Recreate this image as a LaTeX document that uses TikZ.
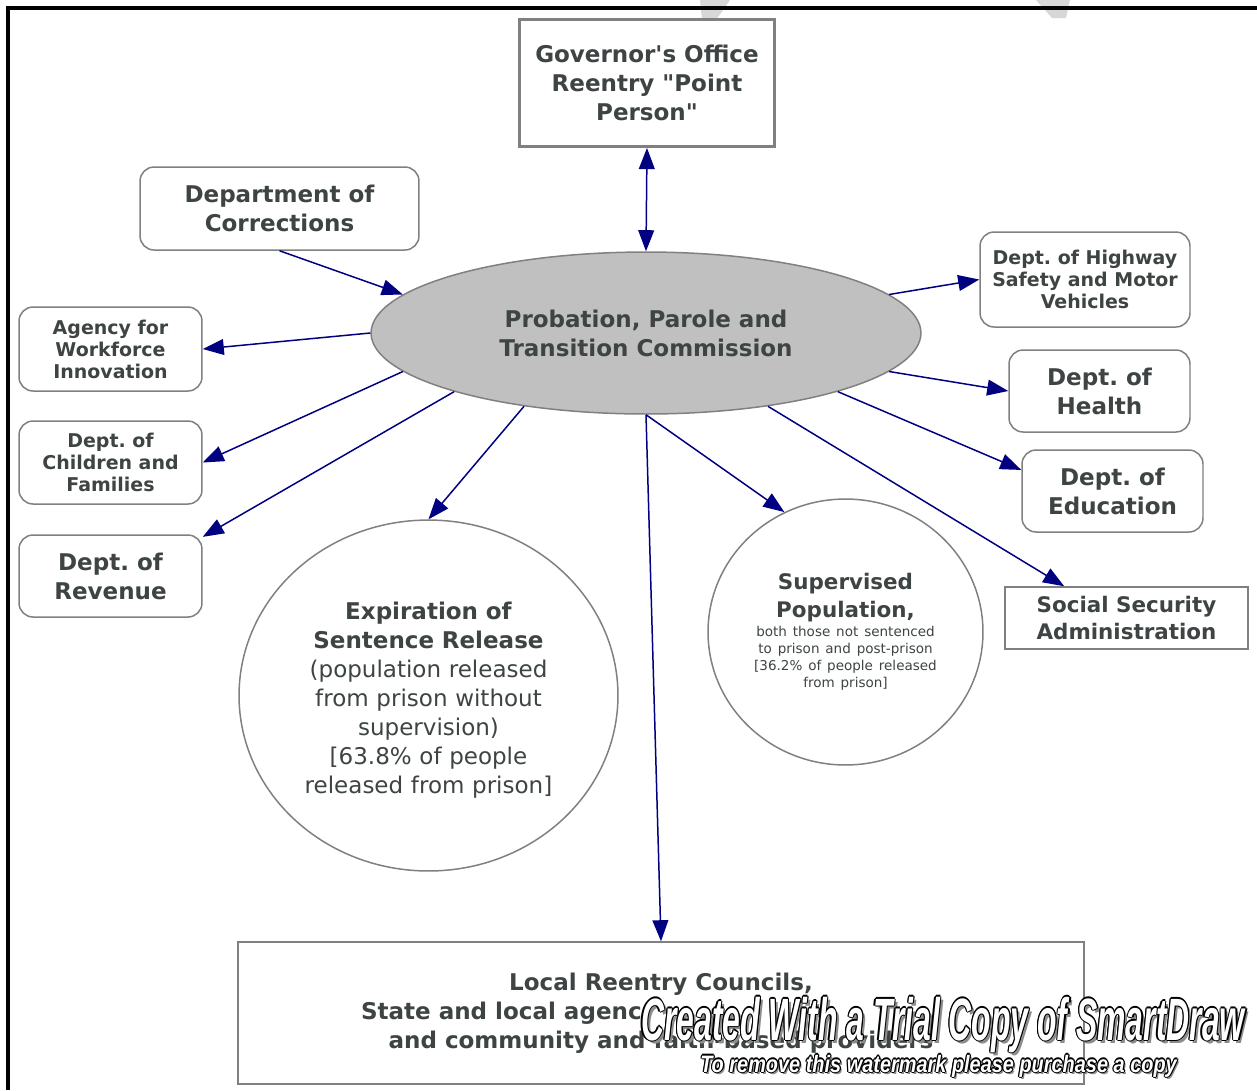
\documentclass[tikz,border=0pt]{standalone}
\usepackage{fontspec}
\setmainfont{DejaVu Sans}
\newfontfamily\wmfont{Liberation Sans}
\usetikzlibrary{arrows.meta,shapes.geometric}
\frenchspacing
\definecolor{slate}{RGB}{62, 68, 68}
\definecolor{navyline}{RGB}{0, 0, 128}
\definecolor{boxgray}{RGB}{128, 128, 128}
\definecolor{silver}{RGB}{192, 192, 192}
\definecolor{wmshade}{RGB}{140, 140, 140}
\definecolor{logogray}{RGB}{215, 215, 215}
\newcommand\bigtext{\fontsize{13.1}{16.5}\selectfont}
\newcommand\midtext{\fontsize{12.2}{15.6}\selectfont}
\newcommand\smalltext{\fontsize{10.8}{12.5}\selectfont}
\newcommand\tinytext{\fontsize{7.7}{9.7}\selectfont}
\tikzset{
  agency/.style={draw=boxgray, line width=0.85pt, rounded corners=8pt, fill=white, text=slate, align=center, inner sep=0pt},
  plainbox/.style={draw=boxgray, line width=0.85pt, fill=white, text=slate, align=center, inner sep=0pt},
  pop/.style={ellipse, draw=boxgray, line width=0.85pt, fill=white, text=slate, align=center, inner sep=0pt},
  link/.style={draw=navyline, line width=0.85pt, -{Triangle[length=12pt,width=9pt]}},
  twoway/.style={link, {Triangle[length=12pt,width=9pt]}-{Triangle[length=12pt,width=9pt]}},
  wmark/.style={font=\wmfont\bfseries\itshape\fontsize{34}{34}\selectfont, xscale=0.534, inner sep=0pt, anchor=base west},
  wmnote/.style={font=\wmfont\bfseries\itshape\fontsize{13.5}{13.5}\selectfont, xscale=0.84, inner sep=0pt, anchor=base west}
}
\begin{document}
\begin{tikzpicture}[x=0.02cm, y=-0.02cm]
\useasboundingbox (0,0) rectangle (1257,1090);
\fill[logogray] (700,0) -- (730,0) -- (716,20) -- (702,20) -- cycle;
\fill[logogray] (1036,0) -- (1070,0) -- (1066,18) -- (1052,18) -- cycle;
\draw[line width=2.3pt, black] (8,1090) -- (8,8) -- (1257,8);

\node[plainbox, line width=1.7pt, minimum width=5.1cm, minimum height=2.54cm, font=\bigtext\bfseries] (gov) at (647,83) {Governor\textquotesingle s Office\\Reentry \textquotedbl Point\\Person\textquotedbl};
\node[agency, minimum width=5.58cm, minimum height=1.66cm, font=\bigtext\bfseries] (doc) at (279.5,208.5) {Department of\\Corrections};
\node[ellipse, draw=boxgray, fill=silver, line width=0.85pt, minimum width=11cm, minimum height=3.24cm, inner sep=0pt, text=slate, align=center, font=\bigtext\bfseries] (ppt) at (646,333) {Probation, Parole and\\Transition Commission};

\node[agency, minimum width=4.2cm, minimum height=1.9cm, font=\smalltext\bfseries] (hsmv) at (1085,279.5) {Dept. of Highway\\Safety and Motor\\Vehicles};
\node[agency, minimum width=3.62cm, minimum height=1.64cm, font=\bigtext\bfseries] (doh) at (1099.5,391) {Dept. of\\Health};
\node[agency, minimum width=3.62cm, minimum height=1.64cm, font=\bigtext\bfseries] (doe) at (1112.5,491) {Dept. of\\Education};
\node[plainbox, minimum width=4.86cm, minimum height=1.24cm, font=\midtext\bfseries] (ssa) at (1126.5,618) {Social Security\\Administration};

\node[agency, minimum width=3.66cm, minimum height=1.68cm, font=\smalltext\bfseries] (awi) at (110.5,349) {Agency for\\Workforce\\Innovation};
\node[agency, minimum width=3.66cm, minimum height=1.66cm, font=\smalltext\bfseries] (dcf) at (110.5,462.5) {Dept. of\\Children and\\Families};
\node[agency, minimum width=3.66cm, minimum height=1.64cm, font=\bigtext\bfseries] (dor) at (110.5,576) {Dept. of\\Revenue};

\node[pop, minimum width=7.58cm, minimum height=7.02cm, text width=5.2cm, font=\bigtext] (eos) at (428.5,695.5) {\textbf{Expiration of}\\\textbf{Sentence Release}\\(population released\\from prison without\\supervision)\\{}[63.8\% of people\\released from prison]\vspace{-5.5pt}};
\node[pop, minimum width=5.5cm, minimum height=5.32cm, text width=3.7cm] (sup) at (845.5,632) {{\midtext\bfseries Supervised\\Population,\par}\vspace{1.5pt}{\tinytext both those not sentenced\\to prison and post-prison\\{}[36.2\% of people released\\from prison]\par}};

\node[plainbox, minimum width=16.92cm, minimum height=2.84cm, font=\bigtext\bfseries] (lrc) at (661,1013) {Local Reentry Councils,\\\makebox[12cm][l]{State and local agenc}\\and community and faith-based providers};

\draw[twoway] (gov.south) -- (ppt.north);
\draw[link] (doc.south) -- (ppt.171);
\draw[link] (ppt.180) -- (awi.east);
\draw[link] (ppt.189) -- (dcf.east);
\draw[link] (ppt.197) -- (dor.23);
\draw[link] (ppt.211) -- (eos.north);
\draw[link] (ppt.270) -- (lrc.north);
\draw[link] (ppt.270) -- (sup.117);
\draw[link] (ppt.329) -- (ssa.153);
\draw[link] (ppt.343) -- (doe.167);
\draw[link] (ppt.351) -- (doh.west);
\draw[link] (ppt.9) -- (hsmv.west);

\node[wmark, text=wmshade] at (644,1043) {Created With a Trial Copy of SmartDraw};
\node[wmnote, text=wmshade] at (702,1074) {To remove this watermark please purchase a copy};
\foreach \dx/\dy in {1.2/0,-1.2/0,0/1.2,0/-1.2,0.8/0.8,-0.8/0.8,0.8/-0.8,-0.8/-0.8} {
  \node[wmark, text=black] at (641+\dx,1040+\dy) {Created With a Trial Copy of SmartDraw};
  \node[wmnote, text=black] at (700+\dx,1072+\dy) {To remove this watermark please purchase a copy};
}
\node[wmark, text=white] (wmtop) at (641,1040) {Created With a Trial Copy of SmartDraw};
\node[wmnote, text=white] (wmbottom) at (700,1072) {To remove this watermark please purchase a copy};
\end{tikzpicture}
\end{document}
